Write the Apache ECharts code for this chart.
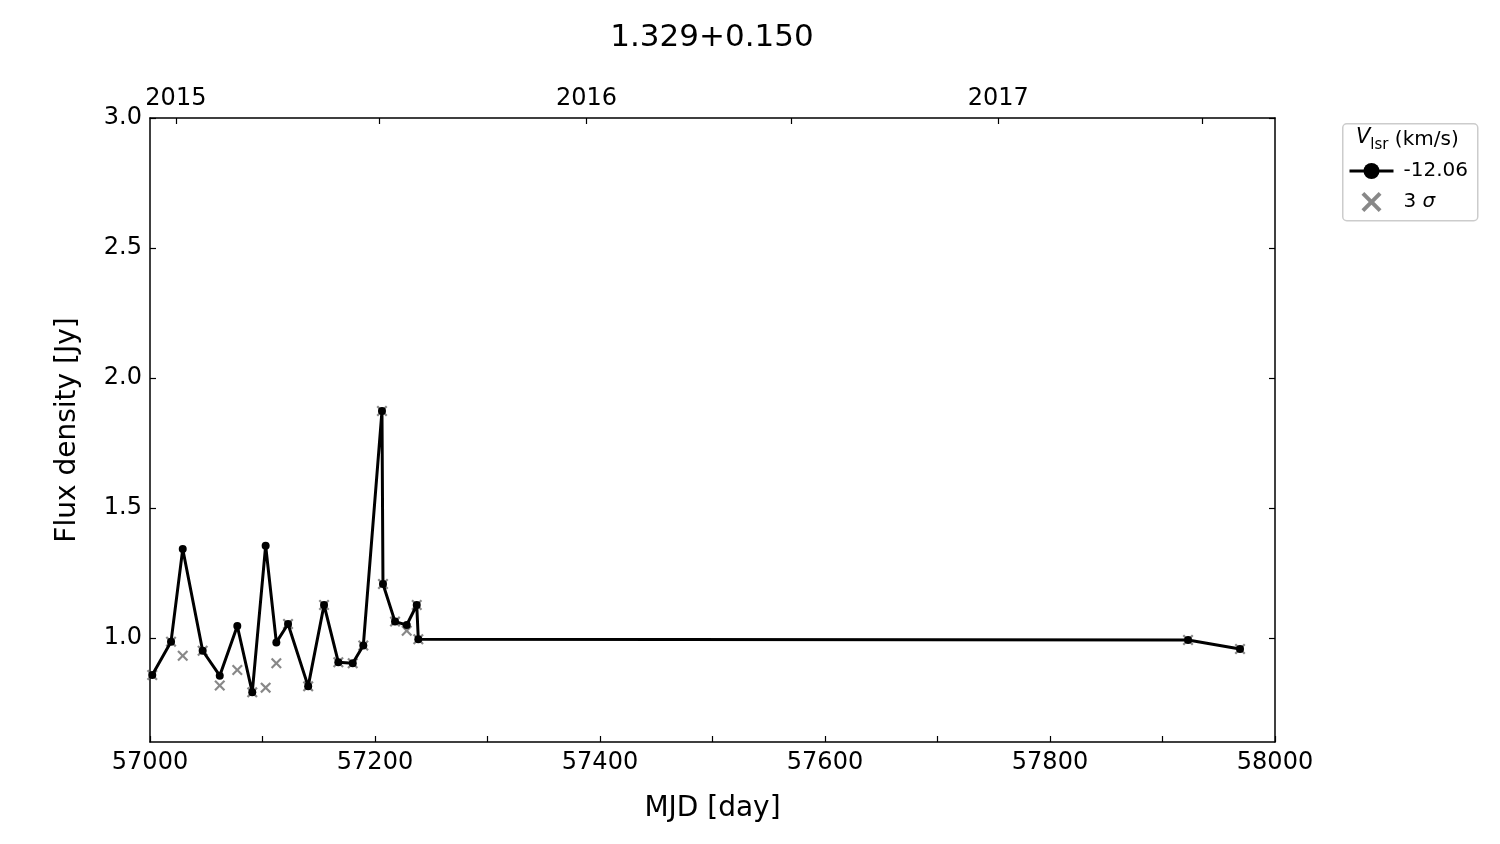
<!DOCTYPE html>
<html>
<head>
<meta charset="utf-8">
<script src="https://cdn.jsdelivr.net/npm/echarts@6/dist/echarts.min.js"></script>
<style>html,body{margin:0;padding:0;background:#fff;}#chart{width:1500px;height:844px;}</style>
</head>
<body>
<div id="chart"></div>
<script>
// ---- data ----
const titleText = '1.329+0.150';
const mjd = [57002.0, 57018.7, 57029.1, 57046.8, 57062.0, 57077.6, 57090.9, 57102.8, 57112.3, 57122.7, 57140.6, 57154.7, 57167.4, 57180.2, 57189.6, 57206.2, 57207.1, 57217.8, 57228.2, 57237.1, 57238.5, 57922.7, 57968.9];
const flux = [0.858, 0.986, 1.342, 0.951, 0.855, 1.046, 0.791, 1.355, 0.983, 1.054, 0.814, 1.127, 0.907, 0.903, 0.971, 1.873, 1.208, 1.063, 1.050, 1.127, 0.995, 0.992, 0.958];
const sigma3 = [0.858, 0.986, 0.932, 0.951, 0.817, 0.877, 0.791, 0.809, 0.903, 1.054, 0.814, 1.127, 0.907, 0.903, 0.971, 1.873, 1.208, 1.063, 1.028, 1.127, 0.995, 0.992, 0.958];
const seriesName = '-12.06';
const sigmaName = '3 σ';
const yTicks = [1.0, 1.5, 2.0, 2.5, 3.0];
const halfYearTicks = [57023, 57204, 57388, 57570, 57754, 57935];
const yearTicks = [57023, 57388, 57754];
const yearLabels = ['2015', '2016', '2017'];

const FONT = 'DejaVu Sans';
const chart = echarts.init(document.getElementById('chart'), null, {renderer: 'canvas'});
const axisLine = {show: true, onZero: false, lineStyle: {color: '#000', width: 1.5}};
const tick = {show: true, inside: true, length: 6, lineStyle: {color: '#000', width: 1.2}};
const xPath = 'path://M0,1.4 L1.4,0 L5,3.6 L8.6,0 L10,1.4 L6.4,5 L10,8.6 L8.6,10 L5,6.4 L1.4,10 L0,8.6 L3.6,5 Z';

const option = {
  animation: false,
  textStyle: {fontFamily: FONT},
  title: {text: titleText, left: 707, top: 17, textAlign: 'center',
    textStyle: {fontFamily: FONT, fontSize: 31, fontWeight: 'normal', color: '#000'}},
  grid: {left: 150, right: 225, top: 118, bottom: 102, containLabel: false},
  xAxis: [
    {type: 'value', position: 'bottom', min: 57000, max: 58000, interval: 100,
      axisLine: axisLine, axisTick: tick, splitLine: {show: false},
      axisLabel: {color: '#000', fontSize: 24, fontFamily: FONT, margin: 9,
        formatter: v => (Math.round(v) % 200 === 0 ? String(Math.round(v)) : '')},
      name: 'MJD [day]', nameLocation: 'middle', nameGap: 53,
      nameTextStyle: {color: '#000', fontSize: 28, fontFamily: FONT}},
    {type: 'value', position: 'top', min: 57000, max: 58000,
      axisLine: axisLine, splitLine: {show: false},
      axisTick: Object.assign({}, tick, {customValues: halfYearTicks}),
      axisLabel: {color: '#000', fontSize: 24, fontFamily: FONT, margin: 7,
        customValues: yearTicks,
        formatter: v => { const i = yearTicks.indexOf(Math.round(v)); return i >= 0 ? yearLabels[i] : ''; }}}
  ],
  yAxis: [
    {type: 'value', position: 'left', min: 0.6, max: 3.0,
      axisLine: axisLine, splitLine: {show: false},
      axisTick: Object.assign({}, tick, {customValues: yTicks}),
      axisLabel: {color: '#000', fontSize: 24, fontFamily: FONT, margin: 8,
        customValues: yTicks, formatter: v => v.toFixed(1)},
      name: 'Flux density [Jy]', nameLocation: 'middle', nameGap: 68, nameRotate: 90,
      nameTextStyle: {color: '#000', fontSize: 28, fontFamily: FONT}},
    {type: 'value', position: 'right', min: 0.6, max: 3.0,
      axisLine: axisLine, splitLine: {show: false},
      axisTick: Object.assign({}, tick, {customValues: yTicks}),
      axisLabel: {show: false, customValues: yTicks}}
  ],
  legend: {
    orient: 'vertical', left: 1348, top: 161, padding: 0,
    itemWidth: 44, itemHeight: 20, itemGap: 11,
    data: [seriesName, sigmaName],
    lineStyle: {width: 3},
    textStyle: {color: '#000', fontSize: 20, fontFamily: FONT, padding: [0, 0, 0, 5],
      rich: {i: {fontStyle: 'italic', fontSize: 20, fontFamily: FONT}}},
    formatter: n => (n === sigmaName ? '3 {i|σ}' : n)
  },
  graphic: [
    {type: 'rect', left: 1342, top: 123, z: -1,
      shape: {width: 135, height: 97, r: 4},
      style: {fill: '#fff', stroke: '#cccccc', lineWidth: 1.5}},
    {type: 'text', left: 1356, top: 127,
      style: {text: '{v|V}{s|lsr}{n| (km/s)}', fill: '#000',
        rich: {v: {fontStyle: 'italic', fontSize: 21, fontFamily: FONT, height: 25, verticalAlign: 'bottom'},
               s: {fontSize: 15, fontFamily: FONT, verticalAlign: 'bottom', padding: [0, 0, -3, 0]},
               n: {fontSize: 20, fontFamily: FONT, verticalAlign: 'bottom'}}}}
  ],
  series: [
    {name: sigmaName, type: 'scatter', xAxisIndex: 0, yAxisIndex: 0, z: 2,
      data: mjd.map((m, i) => [m, sigma3[i]]),
      symbol: xPath, symbolSize: 11,
      itemStyle: {color: '#6a6a6a'}},
    {name: seriesName, type: 'line', xAxisIndex: 0, yAxisIndex: 0, z: 3,
      data: mjd.map((m, i) => [m, flux[i]]),
      symbol: 'circle', symbolSize: 8, showSymbol: true,
      lineStyle: {color: '#000', width: 3},
      itemStyle: {color: '#000'}}
  ]
};
chart.setOption(option);
</script>
</body>
</html>
